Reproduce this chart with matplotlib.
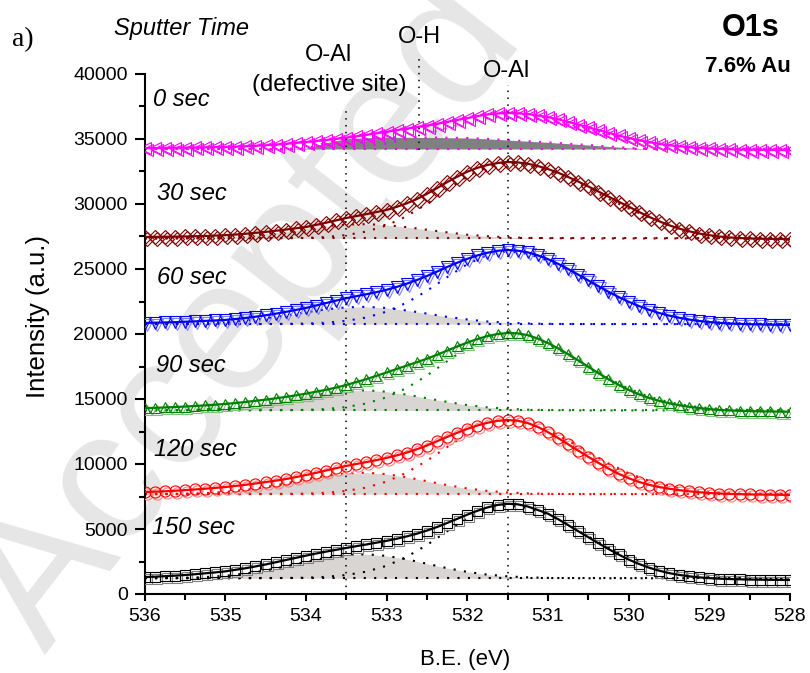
import numpy as np
import matplotlib
matplotlib.use('Agg')
import matplotlib.pyplot as plt
from matplotlib import transforms
from matplotlib.ticker import MultipleLocator

plt.rcParams['font.family'] = ['Liberation Sans', 'DejaVu Sans']

# binding energy grids (eV): measured spectra and fitted components
be_data = np.linspace(536, 528, 65)
be_fit = np.linspace(536, 528, 33)

sputter_labels = ['0 sec', '30 sec', '60 sec', '90 sec', '120 sec', '150 sec']

# O1s spectra (counts) for each sputter time, 536 -> 528 eV
spec_0 = [34300, 34310, 34320, 34330, 34340, 34350, 34360, 34375, 34390,
          34410, 34440, 34480, 34520, 34570, 34630, 34700, 34770,
          34840, 34920, 35010, 35110, 35210, 35320, 35440, 35560,
          35680, 35800, 35910, 36030, 36170, 36320, 36470, 36600,
          36760, 36890, 36970, 37000, 36980, 36920, 36810, 36680,
          36520, 36320, 36110, 35900, 35690, 35480, 35270, 35080,
          34910, 34760, 34630, 34520, 34440, 34370, 34310, 34270,
          34240, 34210, 34190, 34180, 34170, 34160, 34155, 34150]
spec_30 = [27460, 27470, 27480, 27490, 27500, 27520, 27540, 27570, 27600,
           27650, 27710, 27780, 27850, 27940, 28030, 28130, 28230,
           28390, 28560, 28740, 28920, 29070, 29220, 29380, 29540,
           29780, 30050, 30380, 30780, 31220, 31680, 32100, 32480,
           32780, 33000, 33150, 33230, 33200, 33100, 32920, 32690,
           32410, 32080, 31730, 31350, 30960, 30570, 30180, 29800,
           29400, 29020, 28680, 28370, 28110, 27900, 27730, 27600,
           27500, 27430, 27380, 27350, 27330, 27320, 27310, 27300]
spec_60 = [20850, 20870, 20890, 20910, 20940, 20970, 21010, 21040, 21080,
           21150, 21230, 21330, 21440, 21560, 21700, 21850, 22000,
           22190, 22380, 22570, 22750, 22910, 23060, 23220, 23400,
           23620, 23870, 24150, 24460, 24800, 25150, 25480, 25780,
           26040, 26250, 26400, 26460, 26410, 26280, 26050, 25760,
           25400, 25000, 24570, 24120, 23680, 23250, 22850, 22480,
           22160, 21870, 21620, 21420, 21250, 21110, 21000, 20920,
           20860, 20810, 20780, 20750, 20740, 20720, 20710, 20700]
spec_90 = [14300, 14320, 14350, 14380, 14420, 14460, 14510, 14560, 14620,
           14690, 14770, 14860, 14950, 15050, 15160, 15280, 15410,
           15560, 15710, 15880, 16080, 16300, 16530, 16780, 17040,
           17310, 17570, 17830, 18100, 18400, 18720, 19040, 19340,
           19610, 19840, 20000, 20080, 20050, 19910, 19650, 19300,
           18900, 18450, 17970, 17480, 16990, 16520, 16090, 15700,
           15370, 15090, 14860, 14670, 14520, 14400, 14300, 14220,
           14160, 14120, 14090, 14070, 14050, 14040, 14030, 14020]
spec_120 = [7850, 7870, 7900, 7940, 7990, 8040, 8100, 8160, 8230,
            8310, 8400, 8500, 8610, 8720, 8840, 8990, 9150,
            9320, 9500, 9680, 9850, 10000, 10150, 10300, 10470,
            10660, 10880, 11130, 11420, 11750, 12080, 12400, 12700,
            12960, 13170, 13320, 13380, 13330, 13150, 12850, 12450,
            12000, 11520, 11030, 10550, 10090, 9650, 9250, 8910,
            8630, 8400, 8230, 8100, 7990, 7900, 7830, 7770,
            7730, 7700, 7680, 7660, 7650, 7640, 7630, 7620]
spec_150 = [1300, 1330, 1370, 1410, 1460, 1520, 1590, 1660, 1740,
            1860, 1980, 2120, 2270, 2440, 2610, 2780, 2950,
            3110, 3260, 3400, 3540, 3680, 3810, 3950, 4090,
            4250, 4430, 4640, 4880, 5150, 5460, 5780, 6100,
            6400, 6660, 6850, 6940, 6900, 6730, 6460, 6180,
            5760, 5300, 4830, 4370, 3910, 3460, 3040, 2650,
            2320, 2030, 1800, 1610, 1470, 1360, 1280, 1220,
            1180, 1150, 1130, 1110, 1100, 1090, 1085, 1080]

# background level of each fit
baselines = [34230, 27350, 20760, 14120, 7680, 1210]

# O-Al (defective site) component above background, 536 -> 528 eV
defect_0 = [0, 0, 0, 0, 0, 0, 0, 0, 60, 480, 800, 870, 900, 900, 890, 870, 850,
            780, 690, 600, 510, 410, 310, 200, 90, 0, 0, 0, 0, 0, 0, 0, 0]
defect_30 = [0, 10, 30, 60, 120, 210, 360, 540, 750, 940, 1070, 1100, 1030, 870, 670, 470, 290,
             170, 90, 40, 20, 10, 0, 0, 0, 0, 0, 0, 0, 0, 0, 0, 0]
defect_60 = [0, 10, 30, 70, 140, 260, 430, 660, 910, 1140, 1290, 1330, 1240, 1050, 810, 560, 360,
             200, 110, 50, 20, 10, 0, 0, 0, 0, 0, 0, 0, 0, 0, 0, 0]
defect_90 = [10, 10, 40, 80, 160, 300, 500, 770, 1060, 1320, 1500, 1550, 1440, 1220, 940, 660, 410,
             240, 120, 60, 20, 10, 0, 0, 0, 0, 0, 0, 0, 0, 0, 0, 0]
defect_120 = [10, 20, 40, 80, 170, 320, 540, 820, 1130, 1410, 1600, 1650, 1540, 1300, 1000, 700, 440,
              250, 130, 60, 30, 10, 0, 0, 0, 0, 0, 0, 0, 0, 0, 0, 0]
defect_150 = [10, 20, 40, 90, 190, 360, 600, 910, 1260, 1580, 1790, 1850, 1720, 1460, 1120, 780, 490,
              280, 150, 70, 30, 10, 0, 0, 0, 0, 0, 0, 0, 0, 0, 0, 0]

# O-Al lattice component above background, 536 -> 528 eV
oal_0 = [0, 0, 0, 0, 0, 0, 0, 10, 20, 50, 110, 230, 430, 740, 1150, 1610, 2060,
         2380, 2500, 2420, 2210, 1890, 1520, 1150, 810, 540, 340, 200, 110, 60, 30, 10, 10]
oal_30 = [0, 0, 0, 0, 0, 0, 10, 20, 40, 110, 260, 530, 1000, 1710, 2660, 3750, 4780,
          5530, 5810, 5670, 5240, 4610, 3850, 3040, 2300, 1640, 1110, 720, 440, 260, 140, 70, 40]
oal_60 = [0, 0, 0, 0, 0, 0, 10, 20, 40, 110, 250, 510, 960, 1650, 2560, 3610, 4610,
          5330, 5600, 5410, 4880, 4100, 3220, 2360, 1610, 1020, 610, 340, 180, 80, 40, 20, 10]
oal_90 = [0, 0, 0, 0, 0, 0, 10, 20, 40, 110, 260, 540, 1010, 1730, 2680, 3780, 4820,
          5580, 5860, 5660, 5100, 4290, 3370, 2470, 1680, 1070, 640, 350, 180, 90, 40, 20, 10]
oal_120 = [0, 0, 0, 0, 0, 0, 10, 20, 40, 110, 250, 510, 970, 1660, 2570, 3620, 4630,
           5350, 5620, 5430, 4900, 4110, 3230, 2370, 1610, 1030, 610, 340, 180, 80, 40, 20, 10]
oal_150 = [0, 0, 0, 0, 0, 0, 10, 20, 40, 110, 250, 510, 960, 1650, 2560, 3610, 4610,
           5330, 5600, 5410, 4880, 4100, 3220, 2360, 1610, 1020, 610, 340, 180, 80, 40, 20, 10]

spectra = [spec_0, spec_30, spec_60, spec_90, spec_120, spec_150]
defects = [defect_0, defect_30, defect_60, defect_90, defect_120, defect_150]
oal = [oal_0, oal_30, oal_60, oal_90, oal_120, oal_150]

# peak positions marked with guide lines (eV)
pos_defect = 533.5
pos_oh = 532.6
pos_oal = 531.5

colors = ['#ff00ff', '#800000', '#0000ff', '#008000', '#ff0000', '#000000']
shadow_colors = ['#ff00ff', '#800000', '#8080ff', '#80c080', '#ff8080', '#808080']
markers = ['<', 'D', 'v', '^', 'o', 's']
msizes = [8, 7, 8.5, 7.5, 8, 6.5]
fills = ['#808080', '#d8d5d3', '#d8d5d3', '#d8d5d3', '#d8d5d3', '#d8d5d3']
label_px = [(153, 100), (157, 193), (157, 278), (156, 365), (154, 450), (152, 528)]

W, H = 810, 673
fig = plt.figure(figsize=(W / 100, H / 100), dpi=100)


def fx(px):
    return px / W


def fy(py):
    return 1 - py / H


# watermark behind the plot
fig.text(fx(45), fy(655), 'Accepted', rotation=52, rotation_mode='anchor',
         fontsize=135, color='#e6e6e6', ha='left', va='baseline', zorder=-5)

ax = fig.add_axes([fx(144.5), fy(594), fx(790) - fx(144.5), fy(74) - fy(594)])
ax.patch.set_alpha(0)

dot = (0, (1, 4))
for i in range(6):
    c = colors[i]
    base = baselines[i]
    top = base + np.array(defects[i])
    ax.fill_between(be_fit, base, top, color=fills[i], lw=0, zorder=1)
    ax.plot(be_fit, np.full(be_fit.size, base), ls=dot, color=c, lw=1.5, zorder=2)
    ax.plot(be_fit, top, ls=dot, color=c, lw=1.5, zorder=2)
    ax.plot(be_fit, base + np.array(oal[i]), ls=dot, color=c, lw=1.5, zorder=2)
    shadow = transforms.offset_copy(ax.transData, fig=fig, x=2, y=-2, units='dots')
    ax.plot(be_data, spectra[i], ls='none', marker=markers[i], ms=msizes[i], mfc='none',
            mec=shadow_colors[i], mew=0.8, transform=shadow, zorder=3)
    ax.plot(be_data, spectra[i], ls='none', marker=markers[i], ms=msizes[i], mfc='none',
            mec=c, mew=0.8, zorder=4)
    ax.plot(be_data, spectra[i], color=c, lw=1.6, zorder=5)
    fig.text(fx(label_px[i][0]), fy(label_px[i][1]), sputter_labels[i], fontsize=17,
             style='italic', ha='left', va='center')

# guide lines for the component positions
ax.plot([pos_defect, pos_defect], [0, 37460], ls=(0, (1, 3.5)), color='k', lw=1.1, zorder=6, clip_on=False)
ax.plot([pos_oh, pos_oh], [34150, 41460], ls=(0, (1, 3.5)), color='k', lw=1.1, zorder=6, clip_on=False)
ax.plot([pos_oal, pos_oal], [0, 39150], ls=(0, (1, 3.5)), color='k', lw=1.1, zorder=6, clip_on=False)

ax.set_xlim(536, 528)
ax.set_ylim(0, 40000)
ax.xaxis.set_major_locator(MultipleLocator(1))
ax.xaxis.set_minor_locator(MultipleLocator(0.5))
ax.yaxis.set_major_locator(MultipleLocator(5000))
ax.yaxis.set_minor_locator(MultipleLocator(2500))
for s in ['top', 'right']:
    ax.spines[s].set_visible(False)
for s in ['left', 'bottom']:
    ax.spines[s].set_linewidth(1.5)
ax.tick_params(axis='both', which='major', direction='out', labelsize=14, width=1.5)
ax.tick_params(axis='y', which='major', length=7, pad=5)
ax.tick_params(axis='y', which='minor', length=4, width=1.5)
ax.tick_params(axis='x', which='major', length=5, pad=5)
ax.tick_params(axis='x', which='minor', length=4, width=1.5)

fig.text(fx(465), fy(660), 'B.E. (eV)', fontsize=16, ha='center', va='center')
fig.text(fx(38), fy(316), 'Intensity (a.u.)', fontsize=18.5, rotation=90, ha='center', va='center')

fig.text(fx(12), fy(40), 'a)', fontsize=20, family=['Liberation Serif', 'DejaVu Serif'],
         ha='left', va='center')
fig.text(fx(114), fy(28), 'Sputter Time', fontsize=17, style='italic', ha='left', va='center')
fig.text(fx(329), fy(55), 'O-Al', fontsize=17, ha='center', va='center')
fig.text(fx(329), fy(85), '(defective site)', fontsize=17, ha='center', va='center')
fig.text(fx(419), fy(37), 'O-H', fontsize=17, ha='center', va='center')
fig.text(fx(507), fy(71), 'O-Al', fontsize=17, ha='center', va='center')
fig.text(fx(751), fy(28), 'O1s', fontsize=22, weight='bold', ha='center', va='center')
fig.text(fx(748), fy(67), '7.6% Au', fontsize=16, weight='bold', ha='center', va='center')

fig.savefig('out.png', dpi=100)
